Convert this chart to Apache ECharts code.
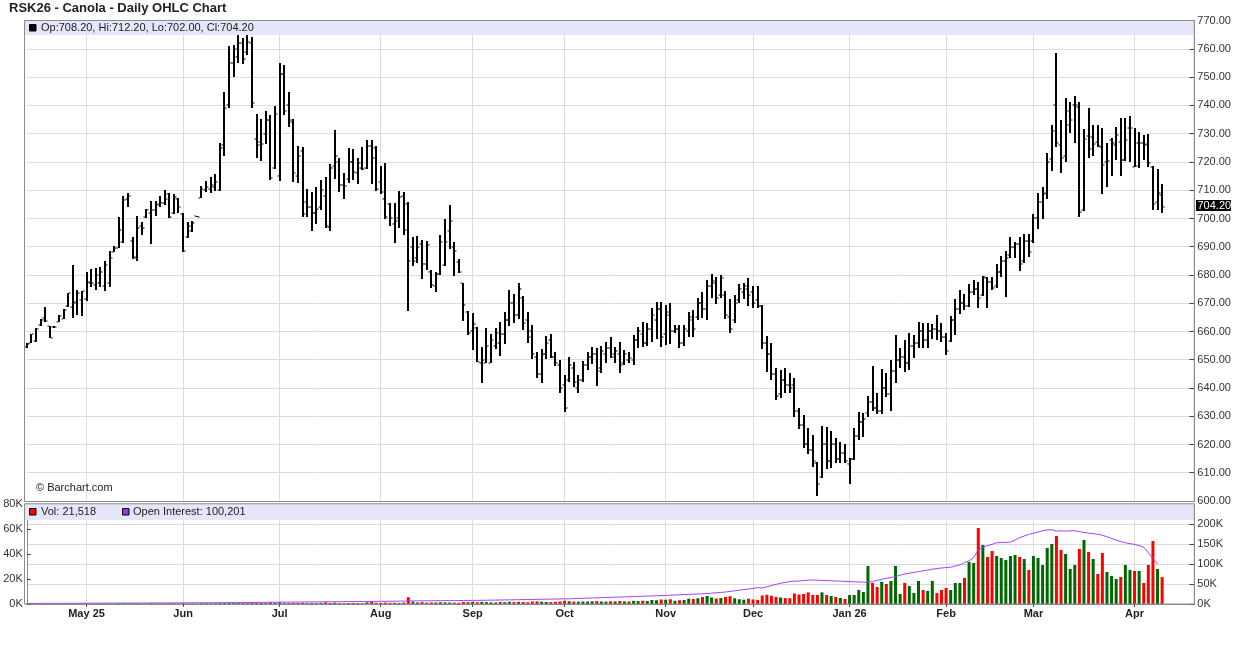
<!DOCTYPE html>
<html><head><meta charset="utf-8">
<script src="https://cdn.jsdelivr.net/npm/echarts@6/dist/echarts.min.js"></script>
<style>html,body{margin:0;padding:0;background:#fff}#c{width:1236px;height:645px}</style>
</head><body><div id="c"></div>
<script>
// ---------- DATA ----------
const symbolTitle = 'RSK26 - Canola - Daily OHLC Chart';
const firstDate = '2025-04-11';
const holidays = ['2025-04-18','2025-05-19','2025-07-04','2025-08-04','2025-09-01','2025-09-30','2025-10-13','2025-11-27','2025-12-25','2025-12-26','2026-01-01','2026-02-16','2026-04-03'];
const slotCount = 255;
const priceTicks = {min: 600, max: 770, step: 10};
const volTicks = {min: 0, max: 80000, step: 20000};
const oiTicks = {min: 0, max: 250000, step: 50000};

const opens = [
654.6,656.0,656.6,662.3,664.7,661.8,661.5,663.4,664.5,668.9,
668.8,670.5,671.2,671.4,677.3,676.5,677.1,676.0,677.0,688.2,
689.6,691.6,707.0,692.0,686.0,697.5,700.6,702.0,703.0,704.8,
705.5,708.6,701.8,707.0,701.6,693.5,695.5,700.9,707.3,710.0,
710.5,711.0,710.0,726.0,740.0,755.0,757.0,762.0,759.0,762.0,
728.0,727.0,730.0,735.0,718.0,715.0,751.0,740.0,734.0,715.0,
724.0,706.0,704.0,702.0,704.0,708.0,697.0,718.5,720.0,712.0,
714.0,720.0,716.0,718.0,718.0,725.5,725.0,713.0,707.0,705.0,
698.0,700.0,708.0,705.0,690.0,686.0,691.0,684.0,681.0,676.0,
680.5,683.5,695.5,690.0,684.5,677.0,667.0,660.0,661.3,649.0,
648.9,649.0,655.0,656.0,659.0,664.0,670.0,666.0,672.0,664.0,
660.0,651.0,645.0,652.0,657.0,651.0,648.0,641.0,643.0,647.0,
640.0,643.0,648.0,651.0,652.0,647.0,652.0,654.0,652.0,652.0,
649.0,650.0,650.0,657.0,659.0,656.0,661.0,664.0,668.0,659.0,
666.0,660.0,661.0,656.0,660.0,664.0,665.0,670.0,668.0,676.0,
677.0,673.0,673.0,665.0,664.0,671.0,674.0,675.0,674.0,671.0,
669.0,656.0,652.0,645.0,638.0,643.0,641.0,641.0,632.0,627.0,
620.0,618.0,613.5,608.5,620.0,614.0,620.0,615.0,617.0,613.0,
615.0,623.0,628.0,631.0,635.0,633.0,632.0,640.0,638.0,646.0,
650.0,651.0,649.0,655.0,656.0,660.0,657.0,660.0,661.0,660.0,
658.0,656.5,664.0,668.0,670.0,669.0,674.0,675.0,673.0,679.0,
677.5,676.0,681.0,685.0,687.0,690.0,691.0,685.0,692.0,692.0,
700.0,706.0,709.0,721.0,740.2,726.0,722.0,738.0,740.0,739.4,
703.0,729.2,729.0,727.2,725.2,720.1,727.8,726.0,727.2,720.7,
731.9,718.3,726.8,726.6,726.4,718.1,705.7,708.2];

const highs = [
655.8,659.1,661.1,664.4,668.6,661.9,661.8,665.7,667.8,673.7,
683.5,674.7,674.5,681.0,682.0,682.4,682.9,685.1,688.6,690.4,
700.6,708.1,709.0,693.3,700.9,698.9,703.4,706.2,706.2,708.0,
710.1,708.9,708.6,707.4,701.8,698.9,699.1,701.0,711.6,713.4,
714.8,715.6,726.6,744.9,761.2,761.4,765.0,763.8,765.0,764.4,
736.9,735.1,738.2,736.6,739.8,755.2,754.3,744.9,735.1,725.7,
725.4,710.3,709.5,711.3,713.6,714.8,719.3,731.3,721.5,716.0,
725.0,724.5,721.3,725.4,727.8,727.8,725.7,718.7,719.5,705.4,
705.4,709.8,709.5,706.0,693.3,693.8,692.4,692.2,681.8,681.2,
694.2,699.7,704.8,691.8,685.5,677.3,667.3,666.4,661.5,654.6,
661.1,659.1,661.1,663.5,667.0,674.7,673.2,677.1,672.6,667.0,
662.3,652.9,653.8,658.4,659.0,652.9,649.9,644.6,651.1,649.3,
644.6,649.7,652.9,654.6,654.1,655.0,656.4,658.2,654.6,656.4,
653.4,652.9,658.8,661.7,663.5,662.9,668.2,670.3,670.3,669.4,
670.0,662.3,662.3,662.3,667.0,667.6,671.7,674.1,678.2,680.4,
679.2,680.0,674.5,671.4,672.9,676.8,677.1,678.8,676.1,676.1,
669.4,658.4,656.1,647.0,646.4,647.0,645.2,643.4,632.8,630.4,
625.7,623.4,613.9,626.6,626.3,624.8,622.2,621.0,620.2,615.1,
625.7,631.6,631.0,637.2,647.8,638.1,646.6,645.2,649.9,658.8,
654.3,657.0,659.6,658.8,663.5,662.9,662.9,662.5,665.8,662.9,
659.3,665.5,671.4,674.7,673.2,676.8,678.2,677.4,679.6,679.4,
679.4,683.8,686.7,688.5,693.3,691.8,693.3,694.5,694.5,701.5,
708.9,711.3,723.1,733.1,758.5,734.9,742.5,741.4,743.4,741.4,
731.6,739.0,733.1,733.1,731.9,726.6,728.4,732.3,735.5,735.5,
736.3,731.9,730.5,729.6,729.9,718.4,717.4,712.2];

const lows = [
654.3,655.8,656.4,662.1,663.4,657.6,661.4,663.2,664.3,668.8,
664.9,665.8,665.6,670.9,675.9,674.7,675.9,674.4,675.9,688.0,
689.4,691.4,704.2,685.8,685.1,694.2,700.3,690.8,701.0,704.0,
704.8,700.1,701.6,701.8,688.0,693.0,695.1,700.4,707.1,709.5,
709.0,709.9,709.9,722.2,739.0,750.0,754.9,754.6,757.9,739.0,
721.3,720.5,726.4,713.6,717.4,713.3,736.6,732.5,713.0,712.7,
700.4,700.4,695.7,698.1,703.0,696.5,695.7,713.9,709.5,706.9,
712.4,713.6,712.2,717.2,717.4,712.2,709.8,708.7,699.7,697.5,
691.2,696.5,694.2,667.4,683.2,684.1,678.5,681.8,675.3,673.9,
680.0,683.3,689.1,679.6,680.6,663.8,658.8,653.5,649.1,641.9,
648.7,648.7,653.7,651.4,655.5,661.9,663.1,664.3,660.5,655.8,
650.1,643.4,641.9,650.1,650.5,647.8,638.1,631.4,642.2,640.5,
638.3,642.0,646.4,648.5,640.7,645.2,648.9,650.5,648.7,645.2,
648.1,648.9,648.1,654.1,654.6,654.9,656.4,657.2,654.6,655.2,
655.5,659.3,654.1,654.9,658.2,658.2,664.1,664.7,664.1,671.7,
669.7,671.7,664.3,659.6,663.1,670.0,671.4,669.0,668.2,668.2,
653.7,645.8,642.8,635.8,636.3,638.1,638.3,629.9,625.4,618.6,
616.6,612.1,601.8,608.0,611.5,611.8,613.3,613.3,613.3,606.0,
614.5,621.6,622.8,629.9,632.0,630.7,630.8,636.7,632.0,641.9,
647.0,645.8,646.4,650.5,654.0,654.0,654.0,657.2,657.0,656.4,
651.7,656.4,658.8,666.2,667.6,668.8,672.9,668.4,672.6,668.4,
674.7,675.3,679.4,672.3,685.9,686.1,681.5,684.4,686.5,691.4,
696.2,699.8,706.8,716.9,725.2,716.2,720.1,730.4,726.8,700.6,
702.8,721.3,722.1,725.2,708.7,711.0,715.0,720.7,715.0,720.5,
720.1,718.1,717.8,720.7,718.1,703.0,703.0,702.0];

const closes = [
655.4,659.0,660.9,664.1,663.8,657.8,661.7,665.5,667.6,673.5,
670.0,673.5,674.3,677.6,677.0,680.0,681.2,683.7,686.0,689.5,
696.0,706.5,708.0,686.5,696.5,696.5,703.0,703.0,705.0,705.5,
707.0,700.5,707.5,704.0,688.5,697.5,698.5,700.5,710.3,711.0,
712.0,713.0,725.0,739.0,755.0,760.0,762.0,756.5,762.5,741.0,
726.0,726.5,735.0,714.5,737.0,751.0,738.0,735.0,716.0,722.0,
701.6,704.0,702.0,703.5,710.0,697.5,718.0,722.1,712.0,711.5,
720.0,716.5,719.5,717.5,725.5,721.5,710.5,709.5,700.5,700.0,
699.0,707.5,696.0,685.0,685.0,690.0,684.0,690.5,676.5,680.5,
691.5,691.5,699.0,688.5,681.0,669.4,659.5,662.6,649.3,650.0,
655.0,657.0,659.5,659.0,664.0,670.0,666.0,675.0,663.0,658.0,
652.0,645.0,652.0,656.0,651.0,649.0,640.0,633.0,648.0,642.0,
643.0,648.0,651.0,652.0,646.0,653.0,654.0,651.0,653.0,648.0,
652.0,650.5,657.0,660.0,656.0,661.0,666.0,668.0,658.0,667.0,
660.0,661.0,656.0,661.0,665.0,661.0,670.0,668.0,676.0,678.0,
672.0,679.0,666.0,661.0,670.0,675.0,676.0,673.0,670.0,669.0,
656.0,652.0,645.0,637.0,643.0,641.0,640.0,632.0,627.0,620.0,
618.0,614.0,606.0,620.0,614.0,620.0,615.0,617.0,614.0,614.8,
623.0,628.0,629.0,635.0,633.0,632.0,640.0,638.0,646.0,650.0,
651.0,649.0,655.0,656.0,660.0,657.0,660.0,661.0,660.0,658.0,
653.0,664.0,668.0,670.0,669.0,674.0,675.0,672.0,679.2,677.5,
675.5,681.0,685.0,686.0,690.0,691.0,684.0,692.0,688.0,700.0,
706.0,708.5,720.0,731.0,726.6,721.5,733.0,735.0,740.0,702.4,
728.0,724.5,726.5,725.5,719.0,720.3,726.6,729.6,720.7,727.8,
731.9,718.6,726.8,726.0,719.5,705.1,708.9,704.2];

const volumes = [
150,200,150,300,250,200,100,300,250,350,
500,300,350,400,300,350,450,400,500,350,
600,700,500,650,550,400,450,700,500,450,
500,600,550,450,700,500,450,300,600,550,
500,650,800,900,1000,800,700,750,650,900,
1100,800,700,1400,900,1300,800,700,900,750,
1000,700,800,650,900,1400,800,1100,700,650,
800,900,750,700,1300,1700,1000,900,1200,900,
1000,800,1100,5400,1800,1200,1500,1100,1300,1200,
1400,1300,1200,1100,1000,1600,1500,1800,1400,1700,
1500,1300,1200,1600,1400,1800,1500,1700,1600,1400,
1900,2100,1800,1600,1500,1700,2000,2600,2200,1900,
1800,2000,1900,2100,2300,2000,1900,2200,2000,2400,
2100,2000,2500,2300,2600,2400,3200,3000,3600,3400,
3800,2600,3000,3200,4200,4000,4600,5600,6400,5200,
4400,4800,5600,6200,4600,3800,3400,4200,3600,3200,
6800,7400,6600,5800,5200,4800,4600,8400,7600,8000,
9300,7200,7200,9300,7200,6400,5600,4800,4000,7200,
7200,11200,9600,30400,16800,13600,17600,16000,18400,30400,
8000,16800,14400,8800,18400,11200,10400,18400,8800,11200,
12800,11200,16800,16800,20800,33600,32800,60800,47200,37600,
42400,38400,36800,35200,38400,39200,37600,36000,27200,38400,
36800,31200,44800,48000,54400,43200,40000,28000,31200,44000,
51200,41600,36000,24000,40800,25600,22400,20000,21600,31200,
27200,26400,26400,16800,31200,50400,28000,21518];

const openInterest = [
1500,1500,1550,1600,1600,1650,1700,1700,1750,1800,
1850,1900,1950,2000,2000,2050,2100,2150,2200,2200,
2250,2300,2350,2400,2400,2450,2500,2550,2600,2650,
2700,2750,2800,2850,2900,2950,3000,3000,3050,3100,
3150,3200,3250,3300,3400,3500,3600,3700,3800,3900,
4000,4100,4200,4300,4400,4500,4600,4700,4800,4900,
5000,5100,5200,5300,5400,5500,5600,5700,5800,5900,
6000,6100,6200,6300,6400,6500,6600,6700,6800,6900,
7000,7100,7200,7600,7700,7800,7900,8000,8100,8200,
8300,8400,8500,8600,8700,8800,8900,9000,9100,9200,
9400,9600,9800,10000,10200,10400,10600,10800,11000,11200,
11400,11600,11800,12000,12200,12400,12600,12800,13000,13400,
13800,14200,14600,15000,15400,15800,16200,16600,17000,17400,
17800,18200,18600,19000,19400,19800,20200,20600,21000,21500,
22000,22500,23000,23500,24000,24500,25000,25500,26000,27000,
28000,29000,30000,31500,33000,34500,36000,37500,39000,41000,
40000,43000,46000,49000,52000,54000,56000,57000,57500,58500,
59500,60000,59500,59000,58500,58000,57500,57000,56500,56000,
55500,55000,54500,54000,56000,59000,62000,64000,66000,69000,
72000,75000,77000,79000,81000,83000,85000,87000,88500,90000,
91000,92000,95000,98000,103000,108000,116000,135000,142000,146000,
149000,153000,154000,154000,155000,160000,166000,170000,174000,177000,
180000,183000,185000,186000,182000,183000,182000,183000,183000,181000,
179000,177000,176000,174000,172000,168000,164000,160000,156000,153000,
151000,149000,146000,142000,128000,114000,100201,null];

// ---------- BUILD ----------
const hol = new Set(holidays);
const categories = [];
{
  let d = new Date(firstDate + 'T00:00:00Z');
  while (categories.length < slotCount) {
    const dow = d.getUTCDay();
    const s = d.toISOString().slice(0, 10);
    if (dow !== 0 && dow !== 6 && !hol.has(s)) categories.push(s);
    d = new Date(d.getTime() + 86400000);
  }
}
const monthNames = ['Jan','Feb','Mar','Apr','May','Jun','Jul','Aug','Sep','Oct','Nov','Dec'];
const isMonthStart = categories.map((c, i) => i > 0 && c.slice(5, 7) !== categories[i - 1].slice(5, 7));
const firstLabelIdx = isMonthStart.indexOf(true);
function monthLabel(value, idx) {
  const m = +value.slice(5, 7) - 1;
  const yy = value.slice(2, 4);
  if (idx === firstLabelIdx || m === 0) return monthNames[m] + ' ' + yy;
  return monthNames[m];
}
const monthInterval = (index) => isMonthStart[index];

const n = closes.length;
const ohlc = closes.map((c, i) => [i, opens[i], c, lows[i], highs[i]]);
const GREEN = '#006600', RED = '#ff0000';
const volData = volumes.map((v, i) => ({
  value: v,
  itemStyle: {color: (i === 0 || closes[i] >= closes[i - 1]) ? GREEN : RED}
}));

const FONT = '"Liberation Sans", Arial, Helvetica, sans-serif';
const GL = 26.8, GW = 1167.5;
const grids = [
  {left: GL, top: 20.7, width: GW, height: 480.3, show: false},
  {left: GL, top: 504, width: GW, height: 100, show: false}
];
const gridLine = {lineStyle: {color: '#dcdcdc', width: 1}};

const chart = echarts.init(document.getElementById('c'));
const option = {
  animation: false,
  backgroundColor: '#fff',
  grid: grids,
  xAxis: [
    {type: 'category', gridIndex: 0, data: categories, boundaryGap: false,
     axisLine: {show: false}, axisTick: {show: false}, axisLabel: {show: false},
     splitLine: {show: true, interval: monthInterval, ...gridLine}},
    {type: 'category', gridIndex: 1, data: categories, boundaryGap: false,
     axisLine: {show: true, lineStyle: {color: '#888'}},
     axisTick: {show: true, interval: monthInterval, length: 3, lineStyle: {color: '#444'}},
     axisLabel: {show: true, interval: monthInterval, formatter: monthLabel, margin: 4,
                 fontFamily: FONT, fontSize: 11, fontWeight: 'bold', color: '#222'},
     splitLine: {show: true, interval: monthInterval, ...gridLine}}
  ],
  yAxis: [
    {type: 'value', gridIndex: 0, position: 'right', min: priceTicks.min, max: priceTicks.max, interval: priceTicks.step,
     axisLine: {show: true, lineStyle: {color: '#888'}},
     axisTick: {show: true, inside: true, length: 5, lineStyle: {color: '#444'}},
     axisLabel: {formatter: v => v.toFixed(2), margin: 3, fontFamily: FONT, fontSize: 11, color: '#333'},
     splitLine: {show: true, ...gridLine}},
    {type: 'value', gridIndex: 1, position: 'left', min: volTicks.min, max: volTicks.max, interval: volTicks.step,
     axisLine: {show: true, lineStyle: {color: '#888'}},
     axisTick: {show: true, inside: true, length: 4, lineStyle: {color: '#444'}},
     axisLabel: {formatter: v => (v / 1000) + 'K', margin: 4, fontFamily: FONT, fontSize: 11, color: '#333'},
     splitLine: {show: false}},
    {type: 'value', gridIndex: 1, position: 'right', min: oiTicks.min, max: oiTicks.max, interval: oiTicks.step,
     axisLine: {show: true, lineStyle: {color: '#888'}},
     axisTick: {show: true, inside: true, length: 5, lineStyle: {color: '#444'}},
     axisLabel: {formatter: v => v >= oiTicks.max ? '' : (v / 1000) + 'K', margin: 3, fontFamily: FONT, fontSize: 11, color: '#333'},
     splitLine: {show: true, ...gridLine}}
  ],
  series: [
    {type: 'custom', name: 'OHLC', xAxisIndex: 0, yAxisIndex: 0, data: ohlc, z: 3,
     encode: {x: 0, y: [1, 2, 3, 4]},
     renderItem: function (params, api) {
       const i = api.value(0);
       const o = api.coord([i, api.value(1)]);
       const c = api.coord([i, api.value(2)]);
       const l = api.coord([i, api.value(3)]);
       const h = api.coord([i, api.value(4)]);
       const x = Math.round(h[0]);
       const top = Math.round(h[1]);
       const bot = Math.max(top + 1, Math.round(l[1]));
       return {type: 'group', children: [
         {type: 'rect', shape: {x: x - 1, y: top, width: 2, height: bot - top}, style: {fill: '#000'}},
         {type: 'rect', shape: {x: x - 2.5, y: Math.round(o[1]) - 0.5, width: 1.5, height: 1}, style: {fill: '#000'}},
         {type: 'rect', shape: {x: x + 1, y: Math.round(c[1]) - 0.5, width: 1.5, height: 1}, style: {fill: '#000'}}
       ]};
     }},
    {type: 'bar', name: 'Vol', xAxisIndex: 1, yAxisIndex: 1, data: volData, barWidth: 3, z: 3},
    {type: 'line', name: 'Open Interest', xAxisIndex: 1, yAxisIndex: 2, data: openInterest, z: 4,
     showSymbol: false, symbol: 'none', lineStyle: {color: '#a040ff', width: 1}, connectNulls: false}
  ]
};
chart.setOption(option);

// ---------- OVERLAYS ----------
const li = n - 1;
const fmt2 = v => v.toFixed(2);
const legendMain = 'Op:' + fmt2(opens[li]) + ', Hi:' + fmt2(highs[li]) + ', Lo:' + fmt2(lows[li]) + ', Cl:' + fmt2(closes[li]);
let lastOI = null;
for (let i = openInterest.length - 1; i >= 0; i--) { if (openInterest[i] != null) { lastOI = openInterest[i]; break; } }
const lastY = chart.convertToPixel({yAxisIndex: 0}, closes[li]);
const FL = 24.5, FR = 1194.3;
chart.setOption({graphic: [
  {type: 'text', left: 9, top: 2, z: 10, style: {text: symbolTitle, font: 'bold 13px ' + FONT, fill: '#222'}},
  {type: 'rect', z: 1, shape: {x: FL, y: 20.7, width: FR - FL, height: 14.3}, style: {fill: '#e6e6fa'}},
  {type: 'rect', z: 1, shape: {x: FL, y: 504, width: FR - FL, height: 16}, style: {fill: '#e6e6fa'}},
  {type: 'rect', z: 10, shape: {x: FL, y: 20.5, width: FR - FL, height: 481}, style: {fill: null, stroke: '#8c8c8c', lineWidth: 1}},
  {type: 'rect', z: 10, shape: {x: FL, y: 503.8, width: FR - FL, height: 100.2}, style: {fill: null, stroke: '#8c8c8c', lineWidth: 1}},
  {type: 'rect', z: 10, shape: {x: 29.5, y: 24.5, width: 6.5, height: 6.5}, style: {fill: '#000', stroke: '#000', lineWidth: 1}},
  {type: 'text', z: 10, x: 41, y: 28, style: {text: legendMain, font: '11px ' + FONT, fill: '#222', verticalAlign: 'middle'}},
  {type: 'rect', z: 10, shape: {x: 29.5, y: 508.5, width: 6.5, height: 6.5}, style: {fill: RED, stroke: '#000', lineWidth: 1}},
  {type: 'text', z: 10, x: 41, y: 512, style: {text: 'Vol: ' + volumes[li].toLocaleString('en-US'), font: '11px ' + FONT, fill: '#222', verticalAlign: 'middle'}},
  {type: 'rect', z: 10, shape: {x: 122.5, y: 508.5, width: 6.5, height: 6.5}, style: {fill: '#9a30f0', stroke: '#000', lineWidth: 1}},
  {type: 'text', z: 10, x: 133, y: 512, style: {text: 'Open Interest: ' + lastOI.toLocaleString('en-US'), font: '11px ' + FONT, fill: '#222', verticalAlign: 'middle'}},
  {type: 'text', z: 10, x: 36, y: 488, style: {text: '\u00a9 Barchart.com', font: '11px ' + FONT, fill: '#222', verticalAlign: 'middle'}},
  {type: 'rect', z: 12, shape: {x: 1196, y: Math.round(lastY) - 7, width: 35, height: 11}, style: {fill: '#000'}},
  {type: 'text', z: 13, x: 1197.5, y: Math.round(lastY) - 1.5, style: {text: fmt2(closes[li]), font: '11px ' + FONT, fill: '#fff', verticalAlign: 'middle'}}
]});
</script>
</body></html>
